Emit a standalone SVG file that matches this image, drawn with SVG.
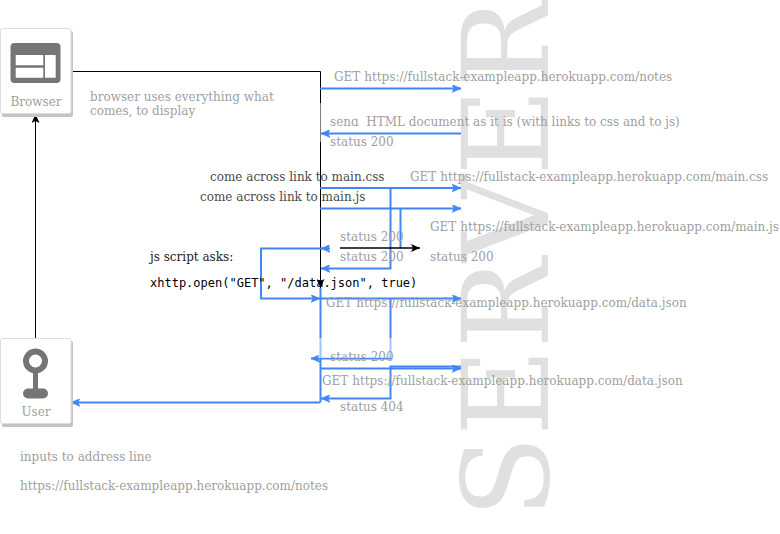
<svg xmlns="http://www.w3.org/2000/svg" width="780" height="534" viewBox="0 0 780 534">
<defs>
<marker id="b" markerUnits="userSpaceOnUse" markerWidth="10" markerHeight="8" refX="9" refY="4" orient="auto"><path d="M0 0L9 4L0 8L2 4Z" fill="#4285f4" stroke="#4285f4" stroke-width="0.5"/></marker>
<marker id="k" markerUnits="userSpaceOnUse" markerWidth="10" markerHeight="8" refX="9" refY="4" orient="auto"><path d="M0 0L9 4L0 8L2 4Z" fill="#000"/></marker>
</defs>
<style>
text{font-family:"DejaVu Serif","Liberation Serif",serif;font-size:12px;fill:#a0a0a0}
.d{fill:#4a4a4a}
.m{font-family:"DejaVu Sans Mono","Liberation Mono",monospace;fill:#000}
.bl{fill:none;stroke:#4285f4;stroke-width:2}
.bk{fill:none;stroke:#000;stroke-width:1}
.c{fill:#fff;stroke:#ddd;stroke-width:1}
.s{fill:#c4c4c4}
.i{fill:#757575}
</style>
<text transform="translate(548 518) rotate(-90)" style="font-size:120px;fill:#e0e0e0">SERVER</text>
<g id="connectors">
<path class="bk" d="M72 71.500H320.500V288" marker-end="url(#k)"/>
<rect x="316" y="103" width="12" height="39" fill="#fff" opacity="0.5"/>
<path class="bk" d="M35.500 338V114" marker-end="url(#k)"/>
<path class="bl" d="M320 88.500H461" marker-end="url(#b)"/>
<path class="bl" d="M461 133.500H321" marker-end="url(#b)"/>
<path class="bl" d="M320 188H461" marker-end="url(#b)"/>
<path class="bl" d="M320 208.500H461" marker-end="url(#b)"/>
<path class="bl" d="M390.500 188V268.500H321" marker-end="url(#b)"/>
<path class="bl" d="M400.500 208.500V248"/>
<path class="bl" d="M330 248.500H321" marker-end="url(#b)"/>
<path class="bl" d="M322 248.500H261V298.500H320" marker-end="url(#b)"/>
<path class="bl" d="M320 298.500H461" marker-end="url(#b)"/>
<path class="bl" d="M320.500 288V402"/>
<path class="bl" d="M390.500 298.500V358.500H311" marker-end="url(#b)"/>
<path class="bl" d="M320 368.500H461" marker-end="url(#b)"/>
<path class="bl" d="M461 366.500H390.500V398.500H321" marker-end="url(#b)"/>
<path class="bl" d="M320.500 402.500H71" marker-end="url(#b)"/>
<path class="bk" style="stroke-width:1.500" d="M340 248H420" marker-end="url(#k)"/>
<rect x="318" y="338" width="74" height="20" fill="#fff" opacity="0.5"/>
</g>
<g id="browser">
<rect class="s" x="2" y="31" width="71" height="86" rx="2"/>
<rect class="c" x="0.500" y="28.500" width="70.500" height="85" rx="2"/>
<rect class="i" x="10.500" y="43" width="50" height="40" rx="4"/>
<path fill="#fff" d="M15.700 55H43.300V65.300H15.700ZM15.700 67.700H43.300V77.700H15.700ZM45 55H55.700V77.700H45Z"/>
<text x="36" y="105.500" text-anchor="middle">Browser</text>
</g>
<g id="user">
<rect class="s" x="2" y="341" width="71" height="86" rx="2"/>
<rect class="c" x="0.500" y="338.500" width="70.500" height="85" rx="2"/>
<circle cx="35.500" cy="361" r="9.500" fill="none" stroke="#757575" stroke-width="6"/>
<rect class="i" x="33" y="372" width="5" height="18"/>
<rect class="i" x="23" y="388.500" width="25" height="10" rx="5"/>
<text x="36" y="415.500" text-anchor="middle">User</text>
</g>
<g id="labels">
<text x="90" y="101">browser uses everything what</text>
<text x="90" y="115">comes, to display</text>
<text x="334" y="81">GET https://fullstack-exampleapp.herokuapp.com/notes</text>
<text x="330" y="126" xml:space="preserve">send  HTML document as it is (with links to css and to js)</text>
<text x="330" y="146">status 200</text>
<text class="d" x="210" y="181">come across link to main.css</text>
<text class="d" x="200" y="201">come across link to main.js</text>
<text x="410" y="181">GET https://fullstack-exampleapp.herokuapp.com/main.css</text>
<text x="430" y="231">GET https://fullstack-exampleapp.herokuapp.com/main.js</text>
<text x="340" y="241">status 200</text>
<text x="340" y="261">status 200</text>
<text x="430" y="261">status 200</text>
<text style="fill:#222" x="150" y="261">js script asks:</text>
<text class="m" x="150" y="287">xhttp.open("GET", "/data.json", true)</text>
<text x="326" y="307">GET https://fullstack-exampleapp.herokuapp.com/data.json</text>
<text x="330" y="361">status 200</text>
<text x="322" y="385">GET https://fullstack-exampleapp.herokuapp.com/data.json</text>
<text x="340" y="411">status 404</text>
<text x="20" y="461">inputs to address line</text>
<text x="20" y="490">https://fullstack-exampleapp.herokuapp.com/notes</text>
</g>
<rect x="328" y="112" width="35" height="6.500" fill="#fff"/>
</svg>
